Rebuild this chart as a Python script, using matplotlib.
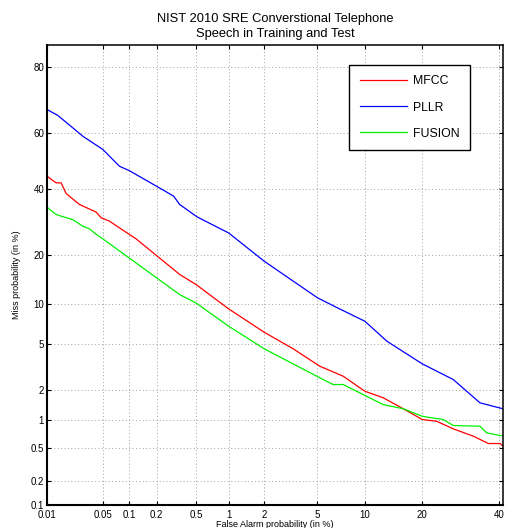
import math
from statistics import NormalDist
import numpy as np
import matplotlib
matplotlib.use("Agg")
import matplotlib.pyplot as plt

# DET curves, (false alarm %, miss %)
pllr_fa = [0.01, 0.0138, 0.0215, 0.0286, 0.05, 0.078, 0.1, 0.2, 0.3, 0.345, 0.5, 0.53,
           1, 2, 5, 7, 10, 13.3, 20, 27.3, 34.5, 41.2]
pllr_miss = [67.8, 65.9, 61.7, 58.8, 54.1, 48.1, 46.6, 41.0, 37.6, 34.8, 31.0, 30.5,
             25.9, 18.4, 10.95, 9.2, 7.5, 5.27, 3.42, 2.48, 1.49, 1.30]

mfcc_fa = [0.01, 0.0102, 0.0132, 0.0153, 0.0177, 0.026, 0.0416, 0.0477, 0.06, 0.089, 0.12,
           0.345, 0.5, 1, 2, 3.35, 5.19, 7.38, 10, 12.7, 16.2, 20, 23.2, 27.3, 32.7, 36.9,
           40.4, 41.2]
mfcc_miss = [45.2, 44.4, 42.2, 42.2, 38.5, 34.8, 32.3, 30.5, 29.4, 26.4, 24.2,
             15.4, 13.35, 9.2, 6.2, 4.58, 3.26, 2.66, 1.93, 1.67, 1.30, 1.01, 0.97, 0.806,
             0.67, 0.557, 0.557, 0.519]

fusion_fa = [0.01, 0.0102, 0.0132, 0.0153, 0.0215, 0.0286, 0.0345, 0.0416, 0.05, 0.345,
             0.5, 1, 2, 5.19, 6.37, 7.38, 10, 12.7, 16.2, 20, 24.8, 27.3, 34.5, 36.4, 40.4,
             41.2]
fusion_miss = [35.6, 33.7, 31.5, 31.0, 29.9, 27.9, 27.1, 25.5, 24.2, 11.5,
               10.1, 6.89, 4.58, 2.57, 2.23, 2.23, 1.76, 1.43, 1.30, 1.09, 1.01, 0.874,
               0.859, 0.73, 0.682, 0.682]

x_ticks = [0.01, 0.05, 0.1, 0.2, 0.5, 1, 2, 5, 10, 20, 40]
y_ticks = [0.1, 0.2, 0.5, 1, 2, 5, 10, 20, 40, 60, 80]

_nd = NormalDist()
_ppf = np.vectorize(_nd.inv_cdf, otypes=[float])
_cdf = np.vectorize(lambda v: 50.0 * (1 + math.erf(v / math.sqrt(2))), otypes=[float])


def probit(p):
    p = np.clip(np.asarray(p, dtype=float) / 100.0, 1e-9, 1 - 1e-9)
    return _ppf(p)


def inv_probit(z):
    return _cdf(np.asarray(z, dtype=float))


plt.rcParams['font.family'] = ['Liberation Sans', 'DejaVu Sans']

fig = plt.figure(figsize=(5.05, 5.28), dpi=100)
ax = fig.add_axes([0.093, 0.0436, 0.903, 0.871])
ax.set_xscale('function', functions=(probit, inv_probit))
ax.set_yscale('function', functions=(probit, inv_probit))

ax.plot(mfcc_fa, mfcc_miss, color='red', lw=0.9, label='MFCC')
ax.plot(pllr_fa, pllr_miss, color='blue', lw=0.9, label='PLLR')
ax.plot(fusion_fa, fusion_miss, color='#00f000', lw=0.9, label='FUSION')

ax.set_xlim(0.01, 41.2)
ax.set_ylim(0.1, 85.1)
ax.set_xticks(x_ticks)
ax.set_xticklabels([f"{t:g}" for t in x_ticks])
ax.set_yticks(y_ticks)
ax.set_yticklabels([f"{t:g}" for t in y_ticks])
ax.minorticks_off()
ax.tick_params(direction='in', top=True, right=True, labelsize=7, length=3, pad=2)
ax.tick_params(axis='x', pad=3.5)
ax.grid(True, linestyle=(0, (1, 2.5)), color='#a0a0a0', lw=0.7)
for name, s in ax.spines.items():
    s.set_linewidth(1.5 if name in ('left', 'bottom') else 1.1)

ax.set_xlabel('False Alarm probability (in %)', fontsize=6.5, labelpad=0)
ax.set_ylabel('Miss probability (in %)', fontsize=6.5, labelpad=7)
ax.set_title('NIST 2010 SRE Converstional Telephone\nSpeech in Training and Test',
             fontsize=9.3, pad=6, linespacing=1.3)

leg = ax.legend(loc='upper left', bbox_to_anchor=(0.663, 0.9565), fontsize=8.8,
                fancybox=False, edgecolor='black', framealpha=1, handlelength=3.9,
                handletextpad=0.45, labelspacing=1.15, borderpad=0.85, borderaxespad=0)
leg.get_frame().set_linewidth(1.0)

fig.savefig('out.png', dpi=100)
plt.close(fig)
